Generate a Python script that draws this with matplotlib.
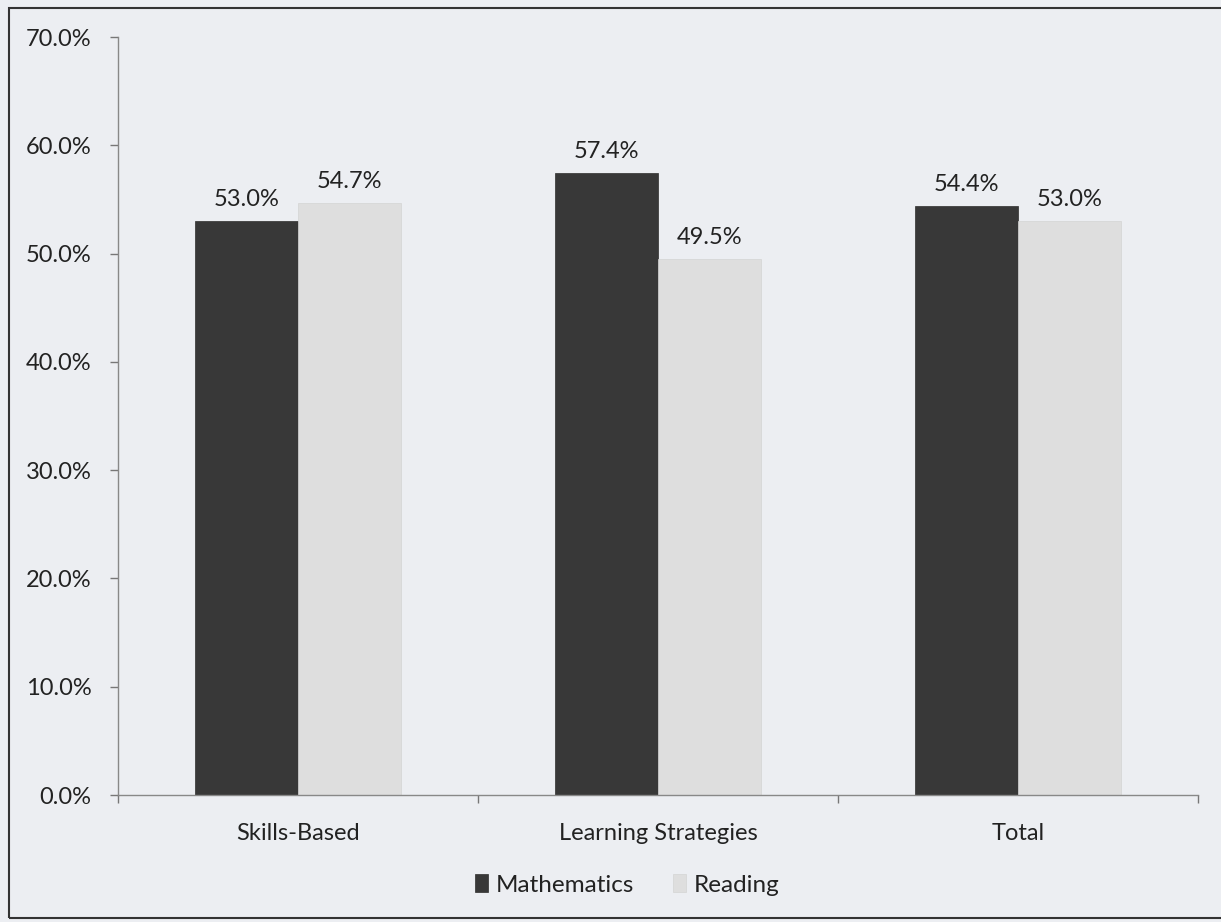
import matplotlib
matplotlib.use("Agg")
import matplotlib.pyplot as plt
from matplotlib.patches import Rectangle
import numpy as np

categories = ["Skills-Based", "Learning Strategies", "Total"]
mathematics = [53.0, 57.4, 54.4]
reading = [54.7, 49.5, 53.0]
yticks = [0, 10, 20, 30, 40, 50, 60, 70]

plt.rcParams['font.family'] = ['Lato', 'DejaVu Sans']

bg = '#eceef2'
fig = plt.figure(figsize=(12.21, 9.22), dpi=100, facecolor=bg)
ax = fig.add_axes([118/1221, 1-795/922, (1198-118)/1221, (795-37)/922])
ax.set_facecolor(bg)

x = np.arange(len(categories))
w = 0.287
b1 = ax.bar(x - w/2, mathematics, w, color='#383838', edgecolor='#2e2e2e', linewidth=0.5, label='Mathematics')
b2 = ax.bar(x + w/2, reading, w, color='#dedede', edgecolor='#d4d4d4', linewidth=0.5, label='Reading')

for bars, vals in ((b1, mathematics), (b2, reading)):
    for r, v in zip(bars, vals):
        ax.annotate(f"{v:.1f}%", (r.get_x() + r.get_width()/2, v), xytext=(0, 8),
                    textcoords='offset points', ha='center', va='bottom', fontsize=17, color='#222222')

ax.set_xlim(-0.5, len(categories) - 0.5)
ax.set_ylim(0, 70)
ax.set_yticks(yticks)
ax.set_yticklabels([f"{t:.1f}%" for t in yticks], fontsize=17, color='#222222')
ax.set_xticks(x)
ax.set_xticklabels(categories, fontsize=17, color='#222222')
ax.tick_params(axis='x', length=0, pad=20)
ax.tick_params(axis='y', length=6, width=1, color='#777777', pad=13)
ax.set_xticks([-0.5, 0.5, 1.5, 2.5], minor=True)
ax.tick_params(axis='x', which='minor', length=6, width=1, color='#777777')
for s in ('top', 'right'):
    ax.spines[s].set_visible(False)
for s in ('left', 'bottom'):
    ax.spines[s].set_color('#888888')
    ax.spines[s].set_linewidth(1)

leg = fig.legend(handles=[b1, b2], loc='center', bbox_to_anchor=(627/1221, 1-885/922), ncol=2,
                 frameon=False, fontsize=17.5, handlelength=0.55, handleheight=0.75, handletextpad=0.3,
                 columnspacing=1.6)
for t in leg.get_texts():
    t.set_color('#222222')

fig.patches.append(Rectangle((9/1221, 1-918/922), 1.1, (918-8)/922, transform=fig.transFigure,
                             fill=False, edgecolor='#333333', linewidth=1.5))

fig.savefig("out.png", dpi=100, facecolor=bg)
